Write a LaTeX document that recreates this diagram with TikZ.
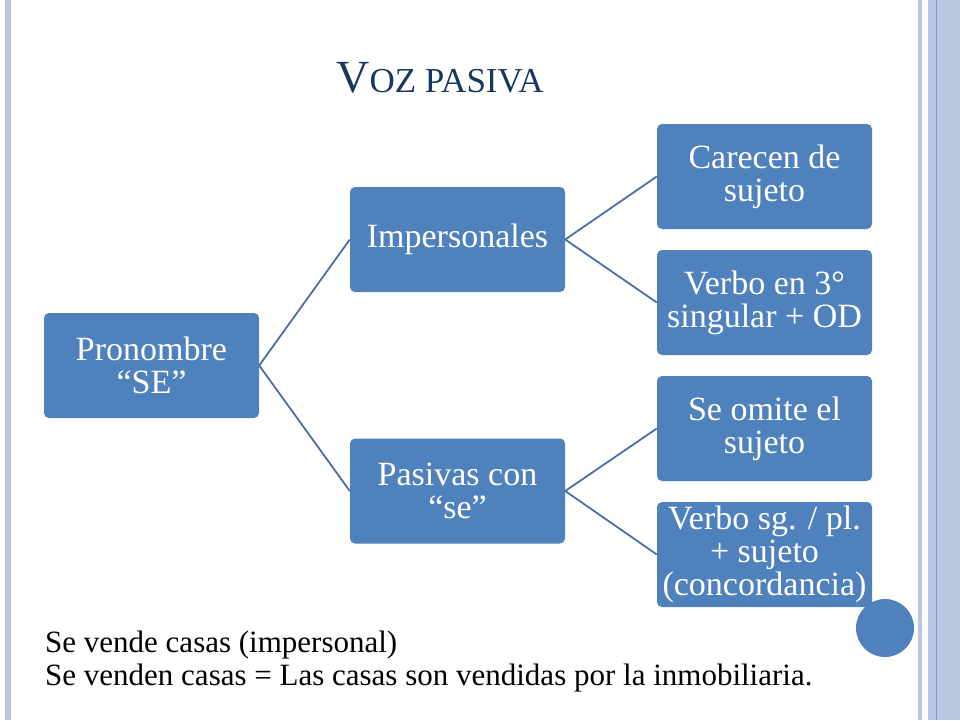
\documentclass[tikz,border=0pt]{standalone}
\usepackage{fontspec}
\setmainfont{Liberation Serif}
\usetikzlibrary{positioning}
\definecolor{boxblue}{HTML}{4F81BD}
\definecolor{linkblue}{HTML}{4A6FA5}
\definecolor{titleblue}{HTML}{17375E}
\definecolor{stripe}{HTML}{B9C7E0}
\tikzstyle{block} = [rectangle, fill=boxblue, text=white,
  align=center, rounded corners=5pt, minimum width=215pt, minimum height=105pt,
  inner sep=0pt, font=\fontsize{34}{33}\selectfont]
\tikzstyle{line} = [draw=linkblue, line width=1.8pt]
\begin{document}
\begin{tikzpicture}[x=1pt, y=-1pt]
        \useasboundingbox (0,0) rectangle (960,720);
        % frame
        \fill[stripe] (5,0) rectangle (11,720);
        \fill[stripe] (918,0) rectangle (922,720);
        \fill[stripe] (928,0) rectangle (960,720);
        \draw[linkblue!70, line width=0.8pt] (936,0) -- (936,720);

        \node [font=\fontsize{46}{52}\selectfont, text=titleblue] (title) at (440,78)
          {V\fontsize{35}{40}\selectfont OZ PASIVA};

        \node [block] (pron) at (151.5,365.5) {Pronombre\\``SE''};
        \node [block] (imp) at (457.5,239.5) {Impersonales};
        \node [block] (pas) at (457.5,491) {Pasivas con\\``se''};
        \node [block] (carecen) at (764.5,176.5) {Carecen de\\sujeto};
        \node [block] (verbo) at (764.5,302.5) {Verbo en 3°\\singular + OD};
        \node [block] (omite) at (764.5,428.5) {Se omite el\\sujeto};
        \node [block] (sgpl) at (764.5,554.5) {Verbo sg. / pl.\\+ sujeto\\(concordancia)};

        \path [line] (pron.east) -- (imp.west);
        \path [line] (pron.east) -- (pas.west);
        \path [line] (imp.east) -- (carecen.west);
        \path [line] (imp.east) -- (verbo.west);
        \path [line] (pas.east) -- (omite.west);
        \path [line] (pas.east) -- (sgpl.west);

        \fill[boxblue] (885,628) circle (29);

        \node [anchor=west, inner sep=0pt, font=\fontsize{31}{36}\selectfont] (ej1) at (45,645)
          {Se vende casas (impersonal)};
        \node [anchor=west, inner sep=0pt, font=\fontsize{31}{36}\selectfont] (ej2) at (45,678)
          {Se venden casas = Las casas son vendidas por la inmobiliaria.};
\end{tikzpicture}
\end{document}
